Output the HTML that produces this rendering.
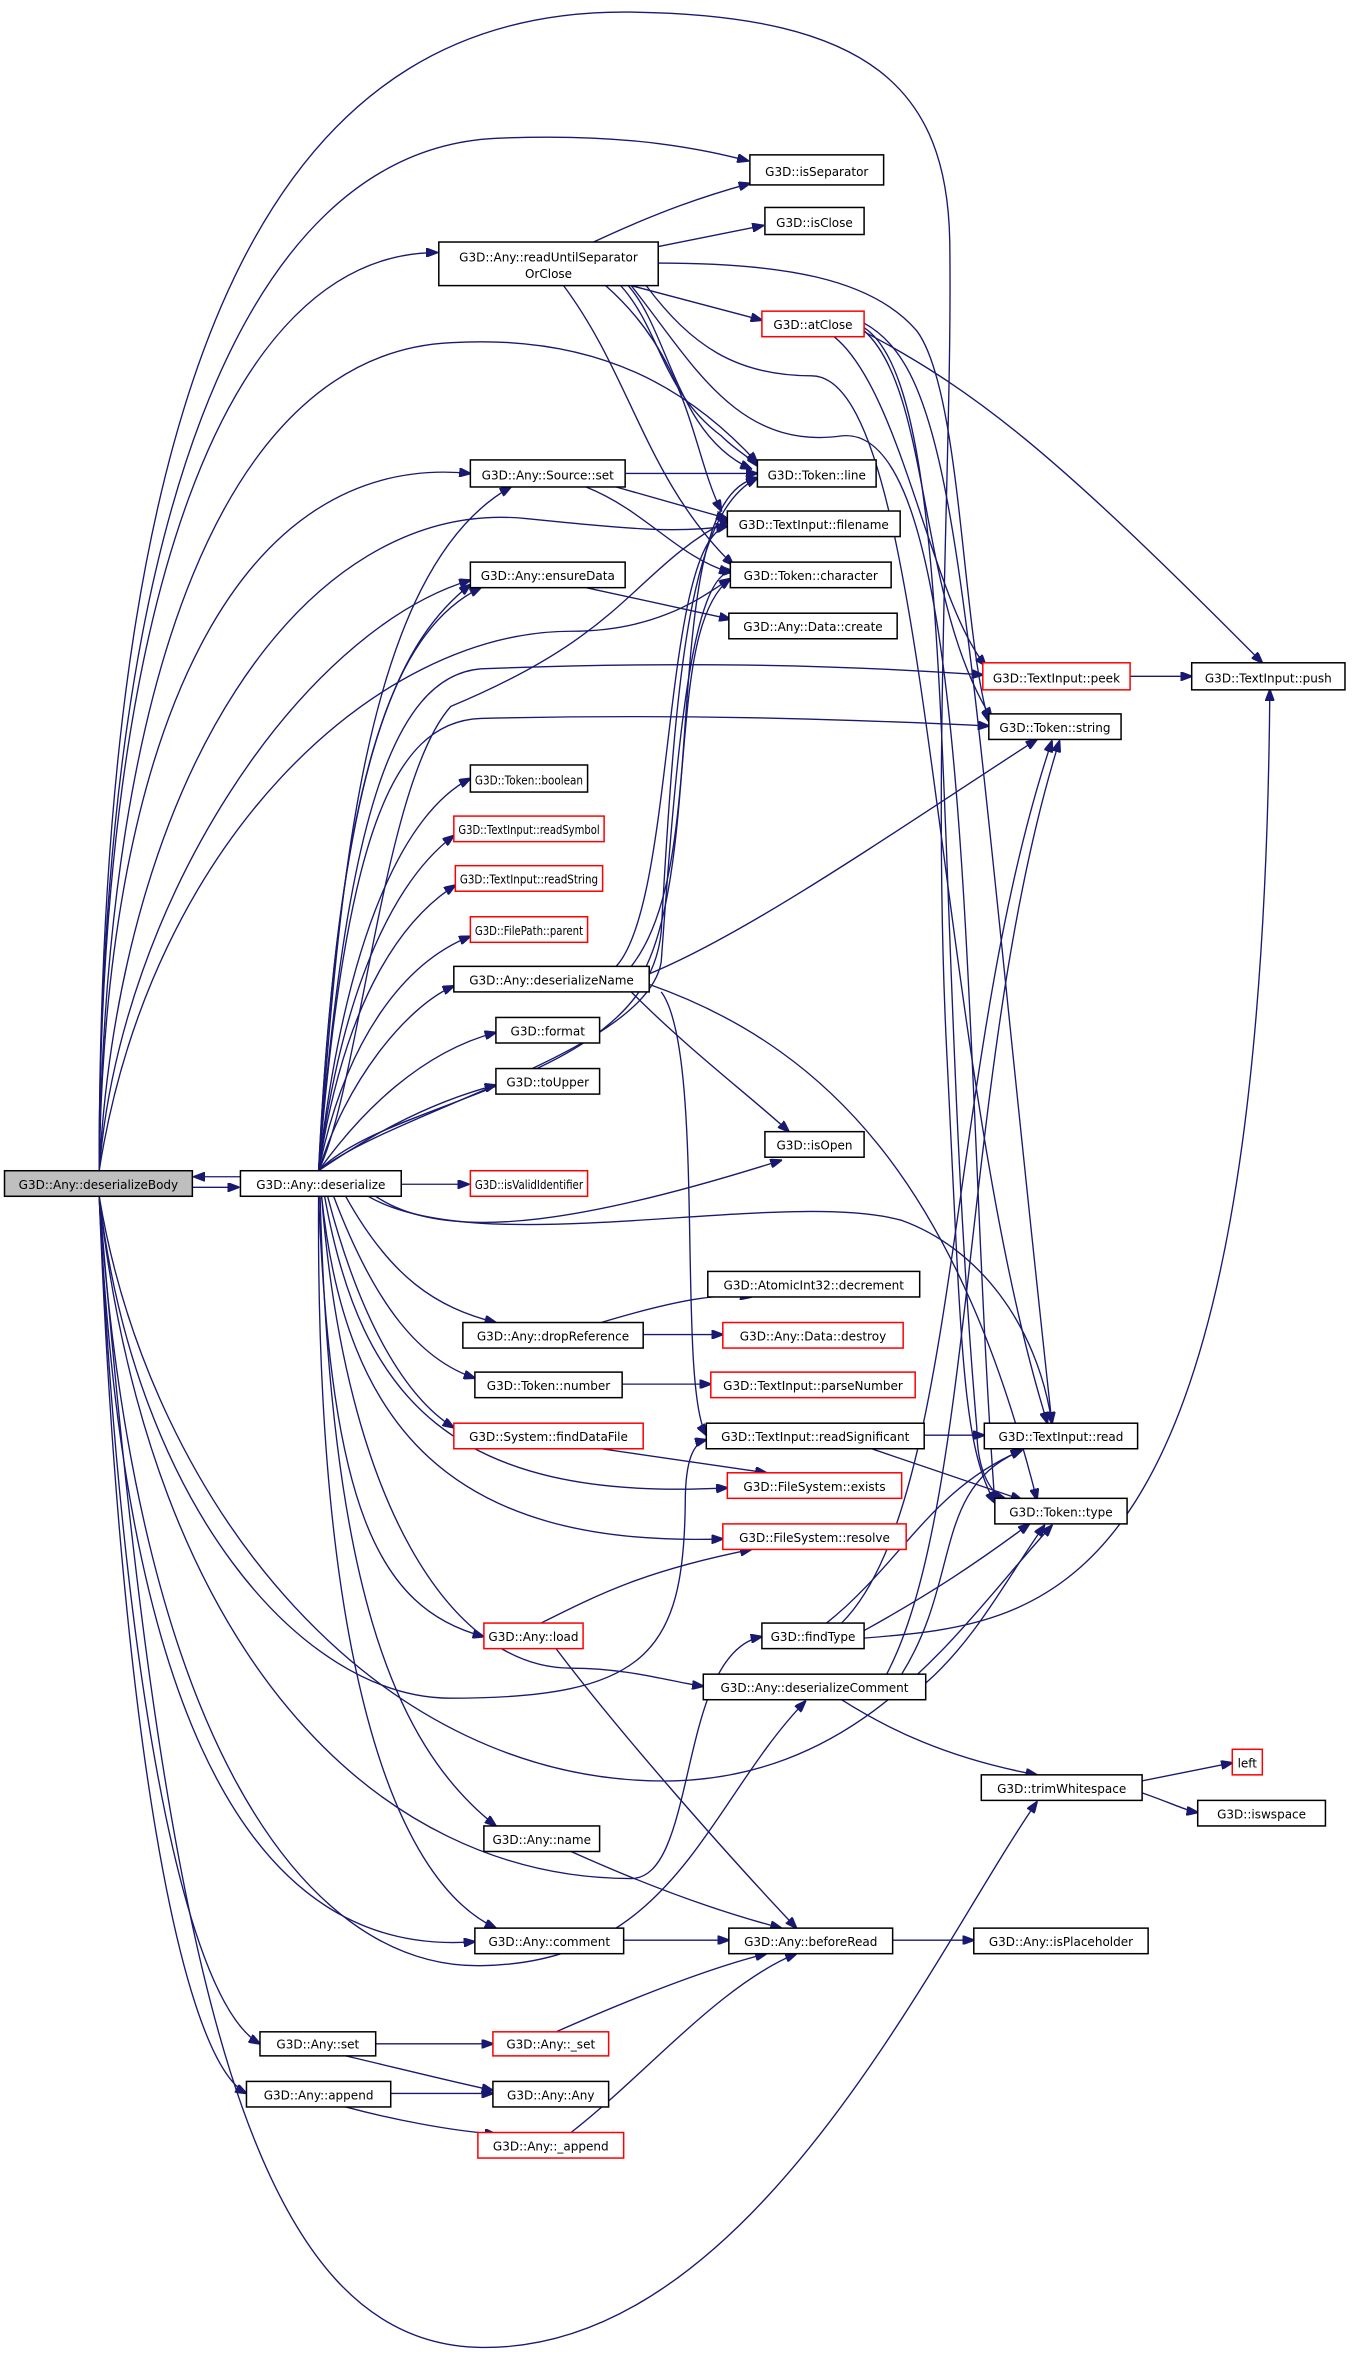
<!DOCTYPE html>
<html><head><meta charset="utf-8"><style>
html,body{margin:0;padding:0;background:#fff;}
svg{display:block;}
text{font-family:"DejaVu Sans","Liberation Sans",sans-serif;font-size:8px;fill:#000;text-anchor:middle;}
.b{fill:#fff;stroke:#000;stroke-width:1;}
.r{fill:#fff;stroke:#f00;stroke-width:1;}
.g{fill:#bfbfbf;stroke:#000;stroke-width:1;}
path{fill:none;stroke:#191970;stroke-width:0.9;}
</style></head><body>
<svg width="1357" height="2358" viewBox="0 0 903 1569" xmlns="http://www.w3.org/2000/svg">
<defs><marker id="a" markerWidth="8" markerHeight="6" refX="7.5" refY="3" orient="auto" markerUnits="userSpaceOnUse"><path d="M0,0 L8,3 L0,6 z" style="fill:#191970;stroke:#191970"/></marker></defs>
<g marker-end="url(#a)">
<path d="M128,790 L159,790"/>
<path d="M160,783 L129,783"/>
<path d="M66,779 C66,350 160,100 330,92 C420,88 470,100 498,107"/>
<path d="M66,779 C66,400 150,168 291,168"/>
<path d="M66,779 C70,450 150,235 300,228 C400,222 460,260 504,308"/>
<path d="M66,779 C70,480 160,300 313,315"/>
<path d="M66,779 C80,600 200,420 313,386"/>
<path d="M66,779 C80,520 200,330 350,345 C420,352 450,355 484,350"/>
<path d="M66,779 C100,560 250,420 380,420 C440,420 470,395 486,385"/>
<path d="M66,779 C66,200 200,5 420,8 C580,10 630,60 632,160 C634,300 620,500 630,700 C640,900 640,960 662,1000"/>
<path d="M66,796 C90,1000 200,1130 300,1130 C430,1130 455,1100 456,1000 C456,970 462,960 470,958"/>
<path d="M66,796 C100,1100 250,1250 420,1250 C465,1250 450,1100 507,1089"/>
<path d="M66,796 C90,1150 200,1310 320,1308 C450,1306 470,1200 536,1132"/>
<path d="M66,796 C80,1100 150,1305 316,1292"/>
<path d="M66,796 C80,1100 120,1330 173,1360"/>
<path d="M66,796 C80,1150 120,1370 164,1393"/>
<path d="M66,796 C100,1000 250,1190 450,1185 C580,1180 640,1080 700,1015"/>
<path d="M66,796 C110,1330 170,1560 320,1562 C500,1565 620,1300 690,1199"/>
<path d="M212,779 C225,600 240,380 340,324"/>
<path d="M212,779 C225,520 260,420 320,391"/>
<path d="M212,779 C225,520 260,430 313,389"/>
<path d="M212,779 C230,550 260,450 320,445 C450,440 550,442 654,449"/>
<path d="M212,779 C230,560 260,480 320,478 C450,475 550,478 658,483"/>
<path d="M212,779 C230,620 270,540 313,518"/>
<path d="M212,779 C230,640 270,580 302,556"/>
<path d="M212,779 C230,660 270,610 303,589"/>
<path d="M212,779 C230,690 270,640 313,623"/>
<path d="M212,779 C230,720 270,670 302,656"/>
<path d="M212,779 C240,740 280,700 330,687"/>
<path d="M212,779 C240,760 280,735 330,722"/>
<path d="M212,779 C240,720 255,520 300,470 C420,420 420,380 486,345"/>
<path d="M212,779 C260,740 430,700 440,640 C450,500 460,380 488,380"/>
<path d="M212,779 C260,730 430,720 440,620 C450,440 460,340 504,318"/>
<path d="M267,788 L312,788"/>
<path d="M250,796 C300,830 400,810 520,772"/>
<path d="M230,796 C260,850 290,870 330,880"/>
<path d="M222,796 C250,870 280,905 316,917"/>
<path d="M218,796 C240,880 270,930 302,950"/>
<path d="M216,796 C240,930 300,1000 484,990"/>
<path d="M214,796 C230,950 300,1030 481,1024"/>
<path d="M212,796 C220,1000 250,1070 322,1089"/>
<path d="M214,796 C230,1000 300,1110 380,1110 C420,1110 450,1120 468,1122"/>
<path d="M213,796 C220,1050 260,1160 330,1215"/>
<path d="M212,796 C210,1100 260,1250 330,1283"/>
<path d="M245,796 C320,840 520,790 600,812 C650,830 690,880 700,947"/>
<path d="M395,161 C440,140 470,130 499,122"/>
<path d="M438,164 L508,150"/>
<path d="M420,190 L507,213"/>
<path d="M438,175 C520,175 580,185 610,220 C640,260 640,420 658,480"/>
<path d="M413,190 C440,220 440,260 480,290 C490,300 500,305 504,310"/>
<path d="M418,190 C445,220 450,290 500,312"/>
<path d="M403,190 C460,240 460,300 480,340"/>
<path d="M375,190 C420,250 430,320 488,376"/>
<path d="M420,190 C460,240 490,300 560,290 C650,280 640,700 662,1000"/>
<path d="M430,190 C460,230 490,250 540,250 C620,250 620,700 697,947"/>
<path d="M555,224 C600,260 620,400 656,443"/>
<path d="M570,218 C650,260 700,300 840,441"/>
<path d="M575,215 C640,250 640,400 700,947"/>
<path d="M575,218 C640,260 620,600 650,950 C650,980 660,995 670,998"/>
<path d="M575,220 C620,260 610,400 660,478"/>
<path d="M416,315 L504,315"/>
<path d="M410,324 L484,345"/>
<path d="M390,324 C430,340 450,370 486,381"/>
<path d="M390,391 L486,412"/>
<path d="M752,450 L793,450"/>
<path d="M410,643 C450,600 440,360 484,350"/>
<path d="M420,643 C470,580 440,420 486,385"/>
<path d="M430,643 C470,560 440,330 504,318"/>
<path d="M432,648 C500,620 600,550 690,492"/>
<path d="M420,660 C460,700 500,730 525,753"/>
<path d="M440,660 C470,700 450,920 470,955"/>
<path d="M432,655 C560,700 640,800 690,998"/>
<path d="M400,880 C450,865 480,860 500,863"/>
<path d="M428,888 L481,888"/>
<path d="M414,921 L473,921"/>
<path d="M400,964 L510,980"/>
<path d="M615,955 L655,955"/>
<path d="M580,964 L680,998"/>
<path d="M360,1080 C400,1060 430,1045 500,1031"/>
<path d="M370,1097 C410,1150 480,1230 530,1283"/>
<path d="M550,1080 C600,1040 620,990 680,965"/>
<path d="M575,1085 C620,1060 650,1040 685,1014"/>
<path d="M575,1090 C700,1080 840,1070 845,459"/>
<path d="M560,1080 C640,1000 630,700 700,493"/>
<path d="M600,1114 C640,1050 620,990 680,965"/>
<path d="M616,1120 C650,1090 670,1050 695,1015"/>
<path d="M590,1114 C650,1000 640,700 705,493"/>
<path d="M560,1131 C590,1150 630,1170 690,1181"/>
<path d="M760,1185 L820,1173"/>
<path d="M760,1193 C780,1200 790,1205 797,1206"/>
<path d="M380,1232 C420,1250 470,1270 520,1283"/>
<path d="M415,1291 L485,1291"/>
<path d="M594,1291 L648,1291"/>
<path d="M250,1360 L328,1360"/>
<path d="M230,1368 C260,1375 300,1385 328,1391"/>
<path d="M260,1393 L328,1393"/>
<path d="M230,1402 C260,1410 300,1418 330,1420"/>
<path d="M370,1352 C420,1330 470,1310 510,1300"/>
<path d="M380,1419 C430,1380 480,1320 530,1300"/>
</g>
<rect class="g" x="3" y="779" width="125" height="17"/><text x="65.5" y="791">G3D::Any::deserializeBody</text>
<rect class="b" x="160" y="779" width="107" height="17"/><text x="213.5" y="791">G3D::Any::deserialize</text>
<rect class="b" x="499" y="103" width="89" height="20"/><text x="543.5" y="117">G3D::isSeparator</text>
<rect class="b" x="509" y="138" width="66" height="18"/><text x="542" y="151">G3D::isClose</text>
<rect class="b" x="292" y="161" width="146" height="29"/><text x="365" y="174">G3D::Any::readUntilSeparator</text><text x="365" y="185">OrClose</text>
<rect class="r" x="507" y="207" width="68" height="17"/><text x="541" y="219">G3D::atClose</text>
<rect class="b" x="504" y="306" width="79" height="18"/><text x="543.5" y="319">G3D::Token::line</text>
<rect class="b" x="313" y="306" width="103" height="18"/><text x="364.5" y="319">G3D::Any::Source::set</text>
<rect class="b" x="484" y="340" width="115" height="17"/><text x="541.5" y="352">G3D::TextInput::filename</text>
<rect class="b" x="486" y="374" width="107" height="17"/><text x="539.5" y="386">G3D::Token::character</text>
<rect class="b" x="313" y="374" width="103" height="17"/><text x="364.5" y="386">G3D::Any::ensureData</text>
<rect class="b" x="485" y="408" width="112" height="17"/><text x="541" y="420">G3D::Any::Data::create</text>
<rect class="r" x="654" y="441" width="98" height="18"/><text x="703" y="454">G3D::TextInput::peek</text>
<rect class="b" x="793" y="441" width="102" height="18"/><text x="844" y="454">G3D::TextInput::push</text>
<rect class="b" x="658" y="475" width="88" height="17"/><text x="702" y="487">G3D::Token::string</text>
<rect class="b" x="313" y="509" width="78" height="18"/><text x="352" y="522" textLength="72" lengthAdjust="spacingAndGlyphs">G3D::Token::boolean</text>
<rect class="r" x="302" y="543" width="100" height="17"/><text x="352" y="555" textLength="94" lengthAdjust="spacingAndGlyphs">G3D::TextInput::readSymbol</text>
<rect class="r" x="303" y="576" width="98" height="17"/><text x="352" y="588" textLength="92" lengthAdjust="spacingAndGlyphs">G3D::TextInput::readString</text>
<rect class="r" x="313" y="610" width="78" height="17"/><text x="352" y="622" textLength="72" lengthAdjust="spacingAndGlyphs">G3D::FilePath::parent</text>
<rect class="b" x="302" y="643" width="130" height="17"/><text x="367" y="655">G3D::Any::deserializeName</text>
<rect class="b" x="330" y="677" width="69" height="17"/><text x="364.5" y="689">G3D::format</text>
<rect class="b" x="330" y="711" width="69" height="17"/><text x="364.5" y="723">G3D::toUpper</text>
<rect class="b" x="509" y="753" width="66" height="17"/><text x="542" y="765">G3D::isOpen</text>
<rect class="r" x="313" y="779" width="78" height="17"/><text x="352" y="791" textLength="72" lengthAdjust="spacingAndGlyphs">G3D::isValidIdentifier</text>
<rect class="b" x="471" y="846" width="141" height="17"/><text x="541.5" y="858">G3D::AtomicInt32::decrement</text>
<rect class="b" x="308" y="880" width="120" height="17"/><text x="368" y="892">G3D::Any::dropReference</text>
<rect class="r" x="481" y="880" width="120" height="17"/><text x="541" y="892">G3D::Any::Data::destroy</text>
<rect class="b" x="316" y="913" width="98" height="17"/><text x="365" y="925">G3D::Token::number</text>
<rect class="r" x="473" y="913" width="136" height="17"/><text x="541" y="925">G3D::TextInput::parseNumber</text>
<rect class="r" x="302" y="947" width="126" height="17"/><text x="365" y="959">G3D::System::findDataFile</text>
<rect class="b" x="470" y="947" width="145" height="17"/><text x="542.5" y="959">G3D::TextInput::readSignificant</text>
<rect class="b" x="655" y="947" width="102" height="17"/><text x="706" y="959">G3D::TextInput::read</text>
<rect class="r" x="484" y="980" width="116" height="17"/><text x="542" y="992">G3D::FileSystem::exists</text>
<rect class="b" x="662" y="997" width="88" height="17"/><text x="706" y="1009">G3D::Token::type</text>
<rect class="r" x="481" y="1014" width="122" height="17"/><text x="542" y="1026">G3D::FileSystem::resolve</text>
<rect class="r" x="322" y="1080" width="66" height="17"/><text x="355" y="1092">G3D::Any::load</text>
<rect class="b" x="507" y="1080" width="68" height="17"/><text x="541" y="1092">G3D::findType</text>
<rect class="b" x="468" y="1114" width="148" height="17"/><text x="542" y="1126">G3D::Any::deserializeComment</text>
<rect class="b" x="653" y="1181" width="107" height="17"/><text x="706.5" y="1193">G3D::trimWhitespace</text>
<rect class="r" x="820" y="1164" width="20" height="17"/><text x="830" y="1176">left</text>
<rect class="b" x="797" y="1198" width="85" height="17"/><text x="839.5" y="1210">G3D::iswspace</text>
<rect class="b" x="322" y="1215" width="77" height="17"/><text x="360.5" y="1227">G3D::Any::name</text>
<rect class="b" x="316" y="1283" width="99" height="17"/><text x="365.5" y="1295">G3D::Any::comment</text>
<rect class="b" x="485" y="1283" width="109" height="17"/><text x="539.5" y="1295">G3D::Any::beforeRead</text>
<rect class="b" x="648" y="1283" width="116" height="17"/><text x="706" y="1295">G3D::Any::isPlaceholder</text>
<rect class="b" x="173" y="1352" width="77" height="16"/><text x="211.5" y="1363">G3D::Any::set</text>
<rect class="r" x="328" y="1352" width="77" height="16"/><text x="366.5" y="1363">G3D::Any::_set</text>
<rect class="b" x="328" y="1385" width="77" height="17"/><text x="366.5" y="1397">G3D::Any::Any</text>
<rect class="b" x="164" y="1385" width="96" height="17"/><text x="212" y="1397">G3D::Any::append</text>
<rect class="r" x="318" y="1419" width="97" height="17"/><text x="366.5" y="1431">G3D::Any::_append</text>
</svg>
</body></html>
